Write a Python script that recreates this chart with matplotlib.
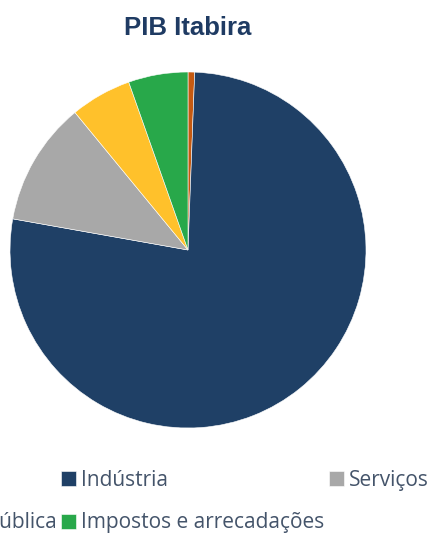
import matplotlib.pyplot as plt

# shares of PIB (percent), clockwise from 12 o'clock
setores = ["Agropecuária", "Indústria", "Serviços",
           "Administração pública", "Impostos e arrecadações"]
valores = [0.6, 77.2, 11.25, 5.55, 5.4]
cores = ["#c55a11", "#1f4066", "#a8a8a8", "#ffc12b", "#28a84a"]

W, H = 432, 535
fig = plt.figure(figsize=(W / 100, H / 100), dpi=100)

# pie centred at (188, 250) px from top-left, radius 178 px
cx, cy, r = 188, 250, 178
ax = fig.add_axes([(cx - r) / W, (H - cy - r) / H, 2 * r / W, 2 * r / H])
wedges, _ = ax.pie(valores, colors=cores, startangle=90, counterclock=False,
                   radius=1, wedgeprops=dict(edgecolor="white", linewidth=0.4))
ax.set_xlim(-1, 1)
ax.set_ylim(-1, 1)
ax.axis("off")

fig.text(cx / W, 1 - 28 / H, "PIB Itabira", ha="center", va="center",
         fontsize=18.5, fontweight="bold", color="#1f3b63",
         family="Liberation Sans")

# legend fills column by column: reorder so rows read like the original
ordem = [0, 3, 1, 4, 2]
hs = [wedges[i] for i in ordem]
ls = [setores[i] for i in ordem]


def make_legend(x0, spacing):
    lg = fig.legend(hs, ls, ncol=3, loc="upper left",
                    bbox_to_anchor=(x0 / W, 1 - 470 / H),
                    frameon=False, handlelength=0.72, handleheight=0.72,
                    handletextpad=0.25, columnspacing=spacing,
                    labelspacing=1.03, borderpad=0, borderaxespad=0,
                    prop={"family": "Open Sans", "size": 15})
    for t in lg.get_texts():
        t.set_color("#44546a")
    return lg


# first column runs off the left edge; place col 2 at x~62, col 3 at x~330
leg = make_legend(0, 0.5)
fig.canvas.draw()
hb = [h.get_window_extent() for h in leg.legend_handles]
x_ind, x_ser = hb[2].x0, hb[4].x0
leg.remove()
extra = (330 - 62) - (x_ser - x_ind)
fs_px = 15 * 100 / 72
leg = make_legend(67 - x_ind, 0.5 + extra / fs_px)

fig.savefig("out.png", dpi=100)
